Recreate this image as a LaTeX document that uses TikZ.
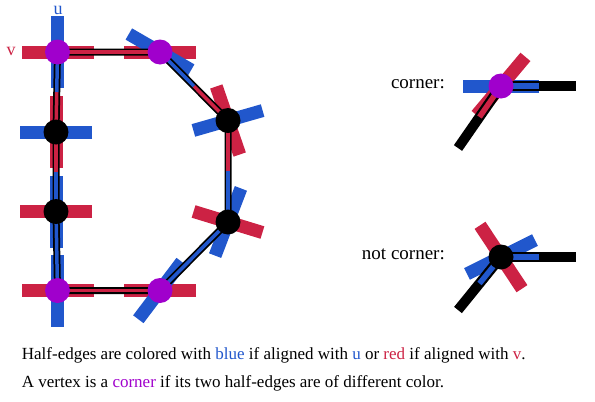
\documentclass[tikz,border=0pt]{standalone}
\usepackage{fontspec}
\setmainfont{Liberation Serif}
\usetikzlibrary{calc}
\pgfdeclarelayer{bg}
\pgfsetlayers{bg,main}
\definecolor{cblue}{RGB}{33,87,204}
\definecolor{cred}{RGB}{204,34,68}
\definecolor{cpurple}{RGB}{160,0,204}
\newcommand\mybar[3]{\draw[barline,#1] (#2.center) ++(#3:36) -- ++(#3+180:72);}
\newcommand\mybarb[3]{\draw[barline,#1] (#2.center) ++(#3:38) -- ++(#3+180:76);}
\begin{document}
\begin{tikzpicture}[x=1pt,y=-1pt,
  vtx/.style={circle,inner sep=0pt,minimum size=25pt},
  cornervtx/.style={vtx,fill=cpurple},
  plainvtx/.style={vtx,fill=black},
  barline/.style={line width=13pt},
  edgeout/.style={line width=7pt,black,line join=round},
  edgein/.style={line width=3.5pt},
  bigout/.style={line width=10pt,black},
  bigin/.style={line width=5.5pt},
  lab/.style={font=\fontsize{19}{22}\selectfont, inner sep=0pt},
  axislab/.style={font=\fontsize{18}{20}\selectfont, inner sep=0pt, anchor=base},
  captext/.style={font=\fontsize{17}{20}\selectfont, inner sep=0pt, anchor=base west}]
\useasboundingbox (0,0) rectangle (595,402);
% main figure vertices
\node[cornervtx] (A) at (57.5,52) {};
\node[cornervtx] (B) at (160,52) {};
\node[plainvtx] (C) at (228,120.5) {};
\node[plainvtx] (D) at (228,222) {};
\node[cornervtx] (E) at (160,290.5) {};
\node[cornervtx] (F) at (57.5,290.5) {};
\node[plainvtx] (G) at (56,211.5) {};
\node[plainvtx] (H) at (56,132) {};
\begin{pgfonlayer}{bg}
  % frame bars
  \mybar{cblue}{A}{90}  \mybar{cred}{A}{0}
  \mybar{cred}{B}{0}    \mybar{cblue}{B}{30}
  \mybar{cblue}{C}{-16} \mybar{cred}{C}{71}
  \mybar{cred}{D}{17}   \mybar{cblue}{D}{111}
  \mybar{cred}{E}{0}    \mybar{cblue}{E}{-53}
  \mybar{cred}{F}{0}    \mybar{cblue}{F}{90}
  \mybar{cred}{G}{0}    \mybar{cblue}{G}{90}
  \mybar{cblue}{H}{0}   \mybar{cred}{H}{90}
  % edges
  \draw[edgeout] (A.center) -- (B.center) -- (C.center) -- (D.center) -- (E.center) -- (F.center) -- (G.center) -- (H.center) -- cycle;
  \draw[edgein,cred]  (A.center) -- (B.center);
  \draw[edgein,cblue] (B.center) -- ($(B)!0.5!(C)$);
  \draw[edgein,cred]  (C.center) -- ($(C)!0.5!(B)$);
  \draw[edgein,cred]  (C.center) -- ($(C)!0.5!(D)$);
  \draw[edgein,cblue] (D.center) -- ($(D)!0.5!(C)$);
  \draw[edgein,cblue] (D.center) -- (E.center);
  \draw[edgein,cred]  (E.center) -- (F.center);
  \draw[edgein,cblue] (F.center) -- (G.center);
  \draw[edgein,cblue] (G.center) -- ($(G)!0.5!(H)$);
  \draw[edgein,cred]  (H.center) -- ($(H)!0.5!(G)$);
  \draw[edgein,cred]  (H.center) -- ($(H)!0.5!(A)$);
  \draw[edgein,cblue] (A.center) -- ($(A)!0.5!(H)$);
\end{pgfonlayer}
\node[axislab, text=cblue] (u) at (58,14) {u};
\node[axislab, text=cred] (v) at (11,55) {v};
% corner example
\node[lab, anchor=base east] (t1) at (445,88) {corner:};
\node[cornervtx] (P) at (501,86) {};
\coordinate (P1) at (576,86);
\coordinate (P2) at (458,148);
\begin{pgfonlayer}{bg}
  \mybarb{cblue}{P}{0}
  \mybarb{cred}{P}{-50}
  \draw[bigout] (P.center) -- (P1);
  \draw[bigout] (P.center) -- (P2);
  \draw[bigin,cblue] (P.center) -- ($(P)!0.5!(P1)$);
  \draw[bigin,cred]  (P.center) -- ($(P)!0.5!(P2)$);
\end{pgfonlayer}
% not corner example
\node[lab, anchor=base east] (t2) at (445,259) {not corner:};
\node[plainvtx] (Q) at (501,257) {};
\coordinate (Q1) at (576,257);
\coordinate (Q2) at (458,310);
\begin{pgfonlayer}{bg}
  \mybarb{cblue}{Q}{-26.5}
  \mybarb{cred}{Q}{56.5}
  \draw[bigout] (Q.center) -- (Q1);
  \draw[bigout] (Q.center) -- (Q2);
  \draw[bigin,cblue] (Q.center) -- ($(Q)!0.5!(Q1)$);
  \draw[bigin,cblue] (Q.center) -- ($(Q)!0.5!(Q2)$);
\end{pgfonlayer}
% caption
\node[captext] (c1) at (21.7,359) {Half-edges are colored with \textcolor{cblue}{blue} if aligned with \textcolor{cblue}{u} or \textcolor{cred}{red} if aligned with \textcolor{cred}{v}.};
\node[captext] (c2) at (21.7,387) {A vertex is a \textcolor{cpurple}{corner} if its two half-edges are of different color.};
\end{tikzpicture}
\end{document}
